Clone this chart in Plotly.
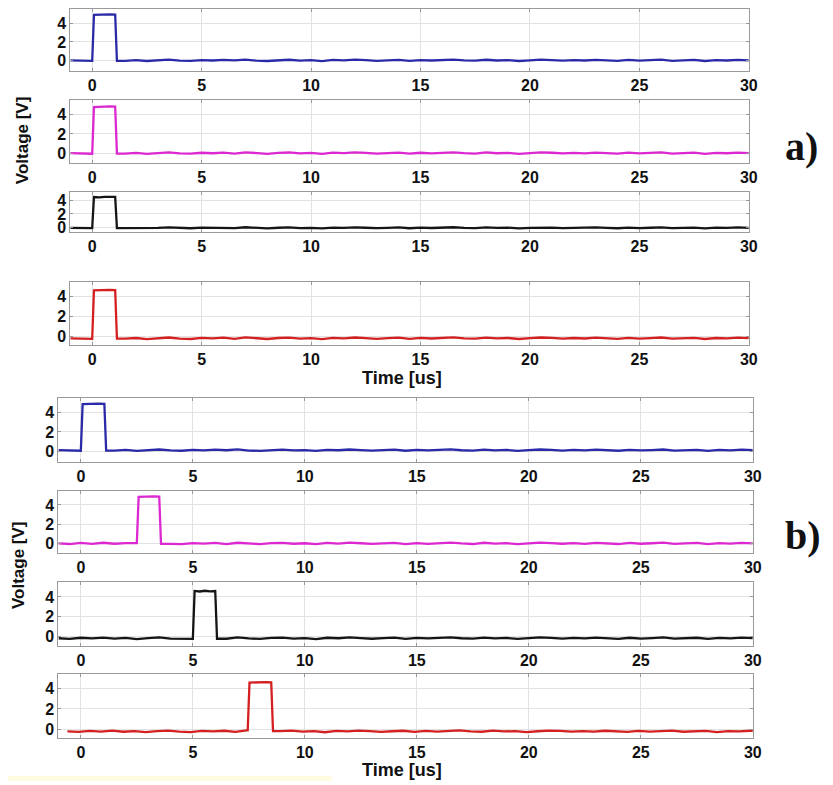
import plotly.graph_objects as go

# The page body has a default 8px margin, so the figure is drawn 8px in
# from the window's top-left corner; pixel positions below are window pixels.
WIN_W, WIN_H = 833, 785
OFF = 8
W, H = WIN_W - OFF, WIN_H - OFF

# ---------------- data ----------------
x_ticks = [0, 5, 10, 15, 20, 25, 30]
y_ticks = [0, 2, 4]
x_range = [-1, 30]
sample_step = 0.5  # us between baseline samples

trace_names = ["blue_a", "magenta_a", "black_a", "red_a",
               "blue_b", "magenta_b", "black_b", "red_b"]
trace_colors = ["#2a2aa8", "#dc28d0", "#151515", "#d42020",
                "#2a2aa8", "#dc28d0", "#151515", "#d42020"]

first_time = [-1.0, -1.0, -1.0, -1.0, -1.0, -1.0, -1.0, -0.6]
pulse_on = [0.0, 0.0, 0.0, 0.0, 0.0, 2.5, 5.0, 7.45]
pulse_off = [1.05, 1.05, 1.05, 1.05, 1.05, 3.5, 6.0, 8.5]

blue_a_top = [4.88, 4.92, 4.89, 4.93, 4.90]
magenta_a_top = [4.82, 4.86, 4.84, 4.88, 4.85]
black_a_top = [4.55, 4.50, 4.58, 4.52, 4.56]
red_a_top = [4.62, 4.66, 4.63, 4.67, 4.64]
blue_b_top = [4.92, 4.95, 4.93, 4.96, 4.94]
magenta_b_top = [4.85, 4.89, 4.86, 4.90, 4.87]
black_b_top = [4.60, 4.55, 4.62, 4.56, 4.60]
red_b_top = [4.60, 4.64, 4.61, 4.65, 4.62]

blue_a_base = [
    0.05, -0.01, 0.09, 0.03, 0.11, 0.00, 0.07, -0.02, 0.06,
    0.12, 0.02, -0.01, 0.08, 0.03, 0.10, 0.04, 0.13, 0.01,
    -0.02, 0.07, 0.11, 0.02, 0.06, -0.03, 0.09, 0.04, 0.12,
    0.06, 0.00, 0.05, 0.10, -0.01, 0.08, 0.03, 0.09, 0.13,
    0.04, 0.01, 0.11, 0.03, 0.07, -0.02, 0.05, 0.12, 0.08,
    0.01, 0.07, 0.03, 0.10, 0.05, -0.01, 0.09, 0.02, 0.06,
    0.12, 0.00, 0.04, 0.09, -0.02, 0.07, 0.03, 0.10, 0.05]
magenta_a_base = [
    0.00, -0.06, 0.05, -0.02, 0.07, -0.04, 0.03, -0.07, 0.02,
    0.08, -0.03, -0.06, 0.04, -0.01, 0.06, -0.05, 0.09, -0.02,
    -0.07, 0.03, 0.07, -0.03, 0.02, -0.08, 0.05, 0.00, 0.08,
    0.02, -0.05, 0.01, 0.06, -0.06, 0.04, -0.02, 0.05, 0.09,
    0.00, -0.04, 0.07, -0.01, 0.03, -0.07, 0.01, 0.08, 0.04,
    -0.03, 0.03, -0.02, 0.06, 0.01, -0.06, 0.05, -0.03, 0.02,
    0.08, -0.04, 0.00, 0.05, -0.07, 0.03, -0.01, 0.06, 0.01]
black_a_base = [
    -0.10, -0.15, -0.06, -0.12, -0.03, -0.14, -0.08, -0.17, -0.09,
    -0.02, -0.13, -0.16, -0.07, -0.11, -0.04, -0.15, -0.01, -0.12,
    -0.17, -0.08, -0.03, -0.13, -0.09, -0.18, -0.05, -0.10, -0.02,
    -0.08, -0.15, -0.09, -0.04, -0.16, -0.06, -0.12, -0.05, -0.01,
    -0.10, -0.14, -0.03, -0.11, -0.07, -0.17, -0.09, -0.02, -0.06,
    -0.13, -0.07, -0.12, -0.04, -0.09, -0.16, -0.05, -0.13, -0.08,
    -0.02, -0.14, -0.10, -0.05, -0.17, -0.07, -0.11, -0.04, -0.09]
red_a_base = [
    -0.20, -0.26, -0.15, -0.22, -0.13, -0.24, -0.17, -0.28, -0.18,
    -0.12, -0.23, -0.27, -0.16, -0.21, -0.14, -0.25, -0.11, -0.22,
    -0.27, -0.17, -0.13, -0.23, -0.18, -0.29, -0.15, -0.20, -0.12,
    -0.18, -0.25, -0.19, -0.14, -0.26, -0.16, -0.22, -0.15, -0.11,
    -0.20, -0.24, -0.13, -0.21, -0.17, -0.27, -0.19, -0.12, -0.16,
    -0.23, -0.17, -0.22, -0.14, -0.19, -0.26, -0.15, -0.23, -0.18,
    -0.12, -0.24, -0.20, -0.15, -0.27, -0.17, -0.21, -0.14, -0.19]
blue_b_base = [
    0.10, 0.04, 0.14, 0.08, 0.16, 0.05, 0.12, 0.03, 0.11,
    0.17, 0.07, 0.04, 0.13, 0.08, 0.15, 0.09, 0.18, 0.06,
    0.03, 0.12, 0.16, 0.07, 0.11, 0.02, 0.14, 0.09, 0.17,
    0.11, 0.05, 0.10, 0.15, 0.04, 0.13, 0.08, 0.14, 0.18,
    0.09, 0.06, 0.16, 0.08, 0.12, 0.03, 0.10, 0.17, 0.13,
    0.06, 0.12, 0.08, 0.15, 0.10, 0.04, 0.14, 0.07, 0.11,
    0.17, 0.05, 0.09, 0.14, 0.03, 0.12, 0.08, 0.15, 0.10]
magenta_b_base = [
    0.01, -0.05, 0.06, -0.03, 0.08, -0.02, 0.04, -0.08, 0.03,
    0.07, -0.04, -0.07, 0.05, 0.00, 0.07, -0.06, 0.08, -0.01,
    -0.06, 0.04, 0.06, -0.02, 0.03, -0.07, 0.06, -0.01, 0.09,
    0.03, -0.04, 0.02, 0.07, -0.05, 0.05, -0.03, 0.06, 0.10,
    0.01, -0.05, 0.08, 0.00, 0.04, -0.06, 0.02, 0.09, 0.05,
    -0.02, 0.04, -0.03, 0.07, 0.02, -0.05, 0.06, -0.02, 0.03,
    0.09, -0.03, 0.01, 0.06, -0.06, 0.04, 0.00, 0.07, 0.02]
black_b_base = [
    -0.15, -0.21, -0.10, -0.17, -0.08, -0.19, -0.12, -0.23, -0.13,
    -0.07, -0.18, -0.22, -0.11, -0.16, -0.09, -0.20, -0.06, -0.17,
    -0.22, -0.12, -0.08, -0.18, -0.14, -0.24, -0.10, -0.15, -0.07,
    -0.13, -0.20, -0.14, -0.09, -0.21, -0.11, -0.17, -0.10, -0.06,
    -0.15, -0.19, -0.08, -0.16, -0.12, -0.22, -0.14, -0.07, -0.11,
    -0.18, -0.12, -0.17, -0.09, -0.14, -0.21, -0.10, -0.18, -0.13,
    -0.07, -0.19, -0.15, -0.10, -0.22, -0.12, -0.16, -0.09, -0.14]
red_b_base = [
    -0.22, -0.28, -0.17, -0.24, -0.15, -0.26, -0.19, -0.30, -0.20,
    -0.14, -0.25, -0.29, -0.18, -0.23, -0.16, -0.27, -0.13, -0.24,
    -0.29, -0.19, -0.15, -0.25, -0.20, -0.31, -0.17, -0.22, -0.14,
    -0.20, -0.27, -0.21, -0.16, -0.28, -0.18, -0.24, -0.17, -0.13,
    -0.22, -0.26, -0.15, -0.23, -0.19, -0.29, -0.21, -0.14, -0.18,
    -0.25, -0.19, -0.24, -0.16, -0.21, -0.28, -0.17, -0.25, -0.20,
    -0.14, -0.26, -0.22, -0.17, -0.29, -0.19, -0.23, -0.16, -0.21]

bases = [blue_a_base, magenta_a_base, black_a_base, red_a_base,
         blue_b_base, magenta_b_base, black_b_base, red_b_base]
tops = [blue_a_top, magenta_a_top, black_a_top, red_a_top,
        blue_b_top, magenta_b_top, black_b_top, red_b_top]

# ---------------- layout (window-pixel positions of panels) ----------------
panel_px_y = [(9, 71), (100, 164), (193, 233), (283, 347),
              (400, 464), (493, 556), (585, 649), (677, 742)]
panel_px_x = [(71, 757)] * 4 + [(59, 761)] * 4
y_ranges = [[-1.05, 5.5], [-1.05, 5.6], [-0.7, 5.3], [-0.9, 5.5],
            [-1.1, 5.55], [-1.0, 5.5], [-0.9, 5.5], [-0.9, 5.5]]


def fx(px):
    return (px - OFF) / W


def fy(py):
    return 1 - (py - OFF) / H


def waveform(t0, base, t_on, t_off, top):
    ts, vs = [], []
    samples = [(t0 + sample_step * i, b) for i, b in enumerate(base)]
    before = [(t, b) for t, b in samples if t < t_on - 0.02]
    after = [(t, b) for t, b in samples if t > t_off + 0.12]
    for t, b in before:
        ts.append(t); vs.append(b)
    ts.append(t_on); vs.append(before[-1][1])
    n = len(top)
    for k, v in enumerate(top):
        ts.append(t_on + 0.08 + (t_off - t_on - 0.08) * k / (n - 1)); vs.append(v)
    ts.append(t_off + 0.08); vs.append(after[0][1])
    for t, b in after:
        ts.append(t); vs.append(b)
    return ts, vs


font_sans = "Liberation Sans, Arial, sans-serif"
fig = go.Figure()
layout = dict(
    width=W, height=H,
    margin=dict(l=0, r=0, t=0, b=0),
    paper_bgcolor="white", plot_bgcolor="white",
    showlegend=False,
)

for i in range(8):
    n = i + 1
    xa = "x" if n == 1 else f"x{n}"
    ya = "y" if n == 1 else f"y{n}"
    ts, vs = waveform(first_time[i], bases[i], pulse_on[i], pulse_off[i], tops[i])
    fig.add_trace(go.Scatter(
        x=ts, y=vs, xaxis=xa, yaxis=ya, mode="lines",
        line=dict(color=trace_colors[i], width=2.3),
        hoverinfo="skip", name=trace_names[i]))
    top_px, bot_px = panel_px_y[i]
    x0, x1 = panel_px_x[i]
    layout[f"xaxis{n if n > 1 else ''}"] = dict(
        domain=[fx(x0), fx(x1)], anchor=ya, range=x_range,
        tickvals=x_ticks, ticks="inside", ticklen=3, tickcolor="#999999",
        showline=True, mirror="allticks", linecolor="#9a9a9a", linewidth=1,
        showgrid=True, gridcolor="#e2e2e2", gridwidth=1, zeroline=False,
        tickfont=dict(family=font_sans, size=16, color="#111111", weight="bold"),
    )
    layout[f"yaxis{n if n > 1 else ''}"] = dict(
        domain=[fy(bot_px), fy(top_px)], anchor=xa, range=y_ranges[i],
        tickvals=y_ticks, ticks="inside", ticklen=3, tickcolor="#999999",
        showline=True, mirror="allticks", linecolor="#9a9a9a", linewidth=1,
        showgrid=True, gridcolor="#e2e2e2", gridwidth=1, zeroline=False,
        tickfont=dict(family=font_sans, size=16, color="#111111", weight="bold"),
    )

anns = []
for cx, cy in [(22, 141), (18, 568)]:
    anns.append(dict(
        text="Voltage [V]", x=fx(cx), y=fy(cy), xref="paper", yref="paper",
        xanchor="center", yanchor="middle", textangle=-90, showarrow=False,
        font=dict(family=font_sans, size=17, color="#111111", weight="bold")))
for cx, cy in [(406, 380), (406, 774)]:
    anns.append(dict(
        text="Time [us]", x=fx(cx), y=fy(cy), xref="paper", yref="paper",
        xanchor="center", yanchor="middle", showarrow=False,
        font=dict(family=font_sans, size=18, color="#111111", weight="bold")))
for lab, cy in [("a)", 147), ("b)", 538)]:
    anns.append(dict(
        text=lab, x=fx(792), y=fy(cy), xref="paper", yref="paper",
        xanchor="left", yanchor="middle", showarrow=False,
        font=dict(family="Liberation Serif, Times New Roman, serif", size=40,
                  color="#111111", weight="bold")))
layout["annotations"] = anns
layout["shapes"] = [dict(type="rect", xref="paper", yref="paper",
                         x0=0, x1=fx(335), y0=fy(785), y1=fy(780),
                         fillcolor="#fffbe0", line=dict(width=0), layer="below")]

fig.update_layout(**layout)
fig.write_html("out.html")
